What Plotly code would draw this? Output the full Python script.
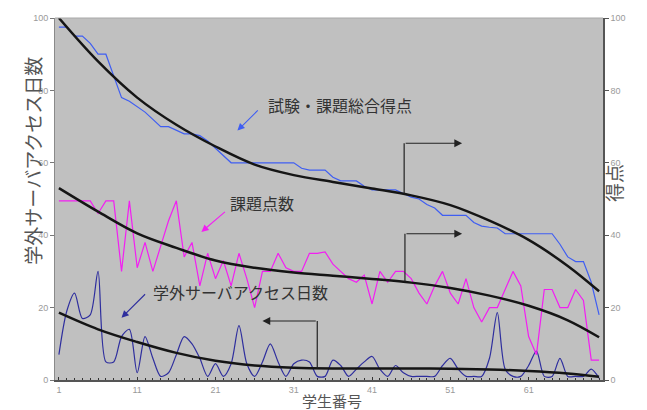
import plotly.graph_objects as go

# ---------------- data ----------------
students = list(range(1, 71))

total_score = [97.5, 97.5, 95, 95, 93, 90, 90, 84, 78, 77,
               75.5, 74, 72, 70, 70, 69, 68, 68, 67.5, 66,
               64, 62, 60, 60, 60, 60, 60, 60, 60, 60,
               60, 58.5, 58, 58, 58, 56, 55, 55, 55, 53.5,
               52.5, 52.5, 52.5, 52.5, 51.5, 50.5, 50, 48.5, 47.5, 45.5,
               45.5, 45.5, 45.5, 43.5, 42.5, 42.2, 42, 40.4, 40.4, 40.4,
               40.4, 40.4, 40.4, 40.4, 37.5, 34, 32.7, 32.7, 27, 18]

assignment_score = [49.5, 49.5, 49.5, 49.5, 49.5, 46, 49.5, 49.5, 30, 49.5,
                    31, 38, 30, 37, 44, 49.5, 34, 38, 26, 35,
                    28, 33, 26, 35, 28, 20, 30, 30, 35, 31,
                    30, 30, 35, 35, 35.4, 32, 30, 28, 27, 29,
                    21, 30, 27, 30, 30, 28, 24, 21, 26, 30,
                    24, 21, 28, 20, 16, 20, 20, 25, 30, 26,
                    12, 7, 25, 25, 20, 20, 25, 22, 5.5, 5.5]

access_days = [7, 19, 24, 17, 18, 30, 5, 5, 12, 14,
               2, 12, 6, 1, 2, 7, 12, 10, 6, 1,
               4.5, 1, 4.5, 15, 4.5, 1, 5, 10, 5, 1,
               4.5, 5.5, 5, 1, 1, 5.5, 4, 1, 3, 5,
               6.5, 3, 1, 4, 2, 1, 1, 1, 1, 4,
               6, 3, 1, 1, 1, 6, 18.6, 3, 1, 1,
               4, 8, 1, 1, 6, 1, 1, 1, 3, 0.5]

trend_x = [1, 6, 11, 16, 21, 26, 31, 36, 41, 46, 51, 56, 61, 66, 70]
total_trend = [100, 88, 78, 70.5, 64.5, 59.5, 56.6, 54.7, 52.9, 51, 48.3, 44, 38.7, 31.5, 24.5]
assignment_trend = [53, 46.5, 40.5, 36.5, 33, 31, 29.7, 28.8, 27.9, 26.9, 25.4, 23.3, 20.5, 16.5, 11.8]
access_trend = [18.6, 14, 10.5, 7.5, 5.3, 4, 3.4, 3.2, 3.2, 3.2, 3.1, 2.9, 2.5, 1.8, 0.9]

x_tick_labels = ["1", "11", "21", "31", "41", "51", "61"]
y_tick_values = [0, 20, 40, 60, 80, 100]

# ---------------- figure ----------------
BLUE = "#3f5ef2"
NAVY = "#2e2e9e"
MAGENTA = "#f21ef2"
TREND = "#151515"
JP = "Noto Sans CJK JP"

fig = go.Figure()

fig.add_trace(go.Scatter(x=students, y=access_days, mode="lines",
                         line=dict(color=NAVY, width=1.2, shape="spline", smoothing=0.8),
                         yaxis="y", showlegend=False))
fig.add_trace(go.Scatter(x=trend_x, y=access_trend, mode="lines",
                         line=dict(color=TREND, width=2.5, shape="spline"),
                         yaxis="y", showlegend=False))
fig.add_trace(go.Scatter(x=students, y=assignment_score, mode="lines",
                         line=dict(color=MAGENTA, width=1.2),
                         yaxis="y2", showlegend=False))
fig.add_trace(go.Scatter(x=trend_x, y=assignment_trend, mode="lines",
                         line=dict(color=TREND, width=2.5, shape="spline"),
                         yaxis="y2", showlegend=False))
fig.add_trace(go.Scatter(x=students, y=total_score, mode="lines",
                         line=dict(color=BLUE, width=1.2),
                         yaxis="y2", showlegend=False))
fig.add_trace(go.Scatter(x=trend_x, y=total_trend, mode="lines",
                         line=dict(color=TREND, width=2.5, shape="spline"),
                         yaxis="y2", showlegend=False))

tick_font = dict(family="Liberation Sans", size=9, color="#9a9a9a")

# page body has an 8px margin, so the figure is sized to fit the rest of the window
fig.update_layout(
    width=639, height=402,
    margin=dict(l=47, r=44, t=5, b=30),
    paper_bgcolor="white",
    plot_bgcolor="#c0c0c0",
    xaxis=dict(range=[0.5, 70.5], tickvals=[int(v) for v in x_tick_labels],
               ticktext=x_tick_labels, ticks="inside", ticklen=3, tickcolor="#333",
               minor=dict(dtick=1, tick0=1, ticks="inside", ticklen=2, tickcolor="#333"),
               showgrid=False, zeroline=False, showline=True, linecolor="#555", linewidth=1.5,
               tickfont=tick_font, fixedrange=True),
    yaxis=dict(range=[0, 100], tickvals=y_tick_values, ticks="outside", ticklen=4,
               tickcolor="#777", showgrid=False, zeroline=False, showline=True,
               linecolor="#8a8a8a", linewidth=1, tickfont=tick_font),
    yaxis2=dict(range=[0, 100], tickvals=y_tick_values, ticks="outside", ticklen=4,
                tickcolor="#555", overlaying="y", side="right", showgrid=False,
                zeroline=False, showline=True, linecolor="#555", linewidth=1.5,
                tickfont=tick_font),
)

# top border of plot area
fig.add_shape(type="line", xref="paper", yref="paper", x0=0, x1=1, y0=1, y1=1,
              line=dict(color="#a8a8a8", width=1))

text_font = dict(family=JP, size=16, color="#333333")

# series labels
fig.add_annotation(x=36.9, y=76.0, xref="x", yref="y", text="試験・課題総合得点",
                   showarrow=False, font=text_font)
fig.add_annotation(x=27.0, y=49.0, xref="x", yref="y", text="課題点数",
                   showarrow=False, font=text_font)
fig.add_annotation(x=24.2, y=24.4, xref="x", yref="y", text="学外サーバアクセス日数",
                   showarrow=False, font=text_font)

# pointer arrows from labels to series
for (hx, hy, tx, ty, col) in [(23.8, 68.9, 26.6, 74.9, BLUE),
                              (19.2, 40.9, 22.4, 46.8, MAGENTA),
                              (9.0, 17.2, 12.2, 24.1, NAVY)]:
    fig.add_annotation(x=hx, y=hy, ax=tx, ay=ty, xref="x", yref="y", axref="x", ayref="y",
                       text="", showarrow=True, arrowhead=2, arrowsize=1.3, arrowwidth=1.1,
                       arrowcolor=col, standoff=0)

# elbow arrows indicating axis
for (vx, y0, y1, hx) in [(45.1, 51.5, 65.4, 52.5),
                         (45.2, 27.2, 40.4, 52.5),
                         (34.0, 3.2, 16.3, 27.0)]:
    fig.add_shape(type="line", xref="x", yref="y", x0=vx, x1=vx, y0=y0, y1=y1,
                  line=dict(color="#222", width=1.2))
    fig.add_annotation(x=hx, y=y1, ax=vx, ay=y1, xref="x", yref="y", axref="x", ayref="y",
                       text="", showarrow=True, arrowhead=2, arrowsize=1.3, arrowwidth=1.2,
                       arrowcolor="#222", standoff=0)

title_font = dict(family=JP, size=19, color="#555")
fig.add_annotation(x=-0.069, y=0.605, xref="paper", yref="paper", text="学外サーバアクセス日数",
                   textangle=-90, showarrow=False, font=title_font)
fig.add_annotation(x=1.047, y=0.545, xref="paper", yref="paper", text="得点",
                   textangle=-90, showarrow=False, font=title_font)
fig.add_annotation(x=0.505, y=-0.058, xref="paper", yref="paper", text="学生番号",
                   showarrow=False, font=dict(family=JP, size=15, color="#555"),
                   yanchor="middle")

fig.write_html("out.html")
